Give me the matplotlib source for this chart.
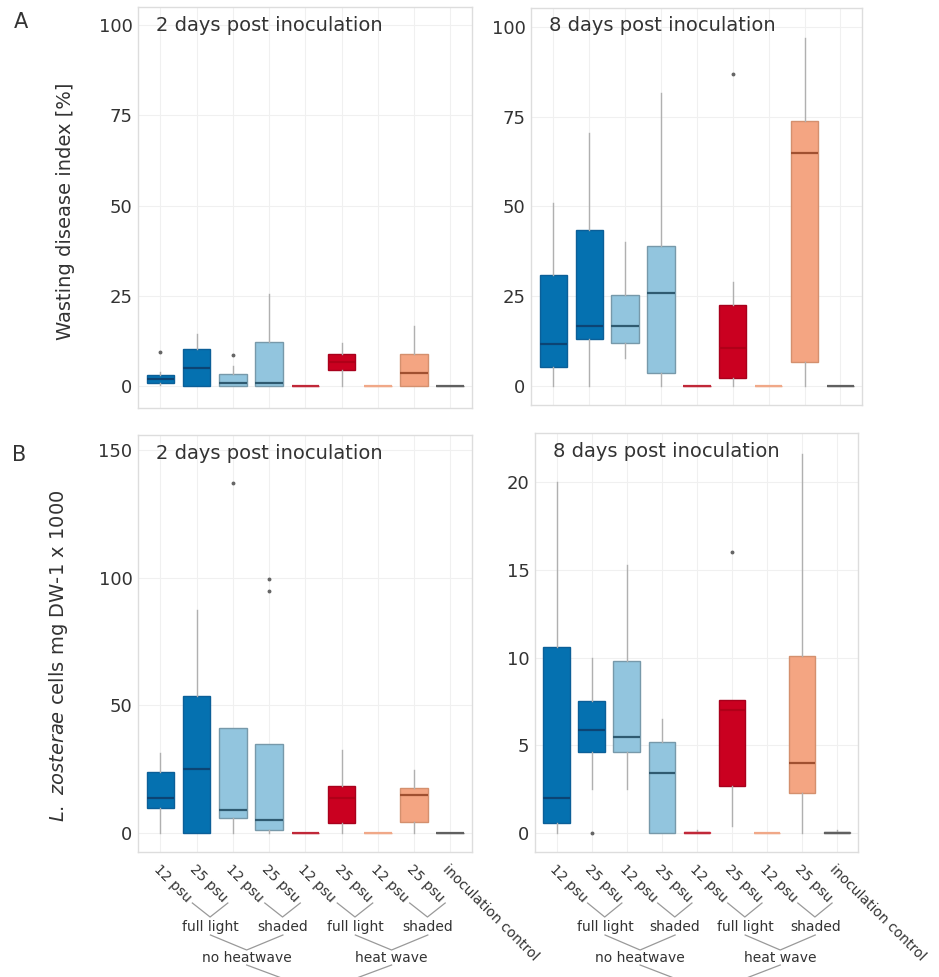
"""Boxplots of wasting disease index and L. zosterae load, 2 and 8 days post inoculation."""

import matplotlib
matplotlib.use("Agg")
import matplotlib.pyplot as plt
from matplotlib import transforms

W_PX, H_PX = 939, 977

# --- data (box statistics) ---
groups = ["12 psu", "25 psu", "12 psu", "25 psu", "12 psu", "25 psu",
          "12 psu", "25 psu", "inoculation control"]
light_labels = ["full light", "shaded", "full light", "shaded"]
wave_labels = ["no heatwave", "heat wave"]

# panel A, 2 days
wdi_2d_low = [0.3, 0, 0, 0, 0, 0, 0, 0, 0]
wdi_2d_q1 = [0.8, 0, 0, 0, 0, 4.4, 0, 0, 0]
wdi_2d_med = [1.9, 5.0, 0.8, 0.8, 0, 6.6, 0, 3.7, 0]
wdi_2d_q3 = [3.0, 10.2, 3.3, 12.3, 0, 8.9, 0, 8.9, 0]
wdi_2d_high = [4.0, 14.5, 5.5, 25.5, 0, 11.8, 0, 16.5, 0]
wdi_2d_out = [[9.4], [], [8.6], [], [], [], [], [], []]

# panel A, 8 days
wdi_8d_low = [0, 0, 7.8, 0, 0, 0, 0, 0, 0]
wdi_8d_q1 = [5.4, 13.0, 12.0, 3.6, 0, 2.2, 0, 6.6, 0]
wdi_8d_med = [11.8, 16.7, 16.7, 26.0, 0, 10.6, 0, 65.0, 0]
wdi_8d_q3 = [31.0, 43.5, 25.3, 39.0, 0, 22.5, 0, 73.8, 0]
wdi_8d_high = [51.0, 70.5, 40.0, 81.7, 0, 29.0, 0, 97.0, 0]
wdi_8d_out = [[], [], [], [], [], [87], [], [], []]

# panel B, 2 days
lz_2d_low = [0, 0, 0, 0, 0, 0, 0, 0, 0]
lz_2d_q1 = [9.8, 0, 5.9, 1.3, 0, 3.9, 0, 4.2, 0]
lz_2d_med = [13.7, 25.0, 9.1, 5.2, 0, 13.7, 0, 15.0, 0]
lz_2d_q3 = [24.1, 53.5, 41.0, 35.0, 0, 18.5, 0, 17.6, 0]
lz_2d_high = [31.3, 87.4, 41.0, 35.0, 0, 32.6, 0, 24.8, 0]
lz_2d_out = [[], [], [137], [99.5, 94.8], [], [], [], [], []]

# panel B, 8 days
lz_8d_low = [0, 2.5, 2.5, 0, 0, 0.4, 0, 0, 0]
lz_8d_q1 = [0.6, 4.6, 4.6, 0, 0, 2.7, 0, 2.3, 0]
lz_8d_med = [2.0, 5.9, 5.5, 3.4, 0, 7.0, 0, 4.0, 0]
lz_8d_q3 = [10.6, 7.5, 9.8, 5.2, 0.05, 7.6, 0, 10.1, 0.05]
lz_8d_high = [20.0, 10.0, 15.3, 6.5, 0.2, 7.6, 0, 21.6, 0.15]
lz_8d_out = [[], [0], [], [], [], [16], [], [], []]

# fill / edge / median colour per box
FILL = ["#0571b0", "#0571b0", "#92c5de", "#92c5de", "#ca0020", "#ca0020",
        "#f4a582", "#f4a582", "#8a8a8a"]
EDGE = ["#0b5f98", "#0b5f98", "#7799aa", "#7799aa", "#d03848", "#a8001c",
        "#f0a888", "#d4906e", "#707070"]
MED = ["#0c4474", "#0c4474", "#2f5a70", "#2f5a70", "#c02838", "#b00018",
       "#f0a888", "#a05030", "#606060"]

TEXT = "#333333"


def fig_y(px):
    return 1 - px / H_PX


def draw_panel(ax, low, q1, med, q3, high, out, ylim, yticks, title):
    stats = []
    for i in range(len(groups)):
        stats.append(dict(whislo=low[i], q1=q1[i], med=med[i], q3=q3[i],
                          whishi=high[i], fliers=out[i]))
    parts = ax.bxp(stats, positions=range(len(groups)), widths=0.76,
                   patch_artist=True, showcaps=False,
                   whiskerprops=dict(color="#b0b0b0", linewidth=1),
                   flierprops=dict(marker="o", markersize=1.8,
                                   markerfacecolor="#666666",
                                   markeredgecolor="#666666"),
                   zorder=3)
    for i, box in enumerate(parts["boxes"]):
        box.set_facecolor(FILL[i])
        box.set_edgecolor(EDGE[i])
        box.set_linewidth(1.0)
        parts["medians"][i].set_color(MED[i])
        parts["medians"][i].set_linewidth(1.6)

    ax.set_xlim(-0.62, 8.6)
    ax.set_ylim(*ylim)
    ax.set_yticks(yticks)
    ax.tick_params(length=0, labelsize=13, labelcolor=TEXT, pad=4)
    ax.grid(True, color="#f0f0f0", linewidth=0.8, zorder=0)
    ax.set_axisbelow(True)
    for sp in ax.spines.values():
        sp.set_color("#dddddd")
        sp.set_linewidth(1)
    ax.text(0.055, 0.955, title, transform=ax.transAxes, fontsize=14,
            color=TEXT, ha="left", va="center")


def draw_brackets(fig, ax):
    tr = transforms.blended_transform_factory(ax.transData, fig.transFigure)
    line = dict(color="#999999", linewidth=0.9, transform=tr, clip_on=False)
    lab = dict(fontsize=10, color=TEXT, ha="center", va="center", transform=tr)
    # salinity pairs -> light level
    for p, name in enumerate(light_labels):
        x0 = 2 * p
        ax.plot([x0 + 0.88, x0 + 1.37, x0 + 1.86],
                [fig_y(903), fig_y(917), fig_y(903)], **line)
        ax.text(x0 + 1.38, fig_y(927), name, **lab)
    # light level -> heatwave
    for g, name in enumerate(wave_labels):
        xa, xb = 4 * g + 1.38, 4 * g + 3.38
        ax.plot([xa, (xa + xb) / 2, xb],
                [fig_y(935), fig_y(950), fig_y(935)], **line)
        ax.text((xa + xb) / 2, fig_y(958), name, **lab)
    # heatwave -> (cut-off) top level
    xa, xb = 2.38, 6.38
    ax.plot([xa, (xa + xb) / 2, xb],
            [fig_y(965), fig_y(992), fig_y(965)], **line)


def main():
    fig = plt.figure(figsize=(W_PX / 100, H_PX / 100), dpi=100)

    ax_a2 = fig.add_axes([138 / W_PX, fig_y(408), 334 / W_PX, 401 / H_PX])
    ax_a8 = fig.add_axes([531 / W_PX, fig_y(405), 331 / W_PX, 397 / H_PX])
    ax_b2 = fig.add_axes([138 / W_PX, fig_y(852), 334 / W_PX, 417 / H_PX])
    ax_b8 = fig.add_axes([535 / W_PX, fig_y(852), 323 / W_PX, 419 / H_PX])

    draw_panel(ax_a2, wdi_2d_low, wdi_2d_q1, wdi_2d_med, wdi_2d_q3, wdi_2d_high,
               wdi_2d_out, (-6.1, 105), [0, 25, 50, 75, 100], "2 days post inoculation")
    draw_panel(ax_a8, wdi_8d_low, wdi_8d_q1, wdi_8d_med, wdi_8d_q3, wdi_8d_high,
               wdi_8d_out, (-5.3, 105.3), [0, 25, 50, 75, 100], "8 days post inoculation")
    draw_panel(ax_b2, lz_2d_low, lz_2d_q1, lz_2d_med, lz_2d_q3, lz_2d_high,
               lz_2d_out, (-7.4, 155.9), [0, 50, 100, 150], "2 days post inoculation")
    draw_panel(ax_b8, lz_8d_low, lz_8d_q1, lz_8d_med, lz_8d_q3, lz_8d_high,
               lz_8d_out, (-1.08, 22.8), [0, 5, 10, 15, 20], "8 days post inoculation")

    for ax in (ax_a2, ax_a8):
        ax.set_xticks(range(len(groups)))
        ax.set_xticklabels([])
    for ax in (ax_b2, ax_b8):
        ax.set_xticks(range(len(groups)))
        ax.set_xticklabels(groups, rotation=-45, ha="left", va="top",
                           rotation_mode="anchor", fontsize=10, color=TEXT)
        ax.tick_params(axis="x", pad=7)
        draw_brackets(fig, ax)

    ax_a2.set_ylabel("Wasting disease index [%]", fontsize=14, color=TEXT)
    ax_a2.yaxis.set_label_coords(-0.19, 0.49)
    ax_b2.set_ylabel(r"$\it{L.}$ $\it{zosterae}$ cells mg DW-1 x 1000",
                     fontsize=14, color=TEXT)
    ax_b2.yaxis.set_label_coords(-0.204, 0.47)

    fig.text(21 / W_PX, fig_y(22), "A", fontsize=15, color=TEXT, ha="center", va="center")
    fig.text(19 / W_PX, fig_y(455), "B", fontsize=15, color=TEXT, ha="center", va="center")

    fig.savefig("out.png", dpi=100)
    plt.close(fig)


if __name__ == "__main__":
    main()
